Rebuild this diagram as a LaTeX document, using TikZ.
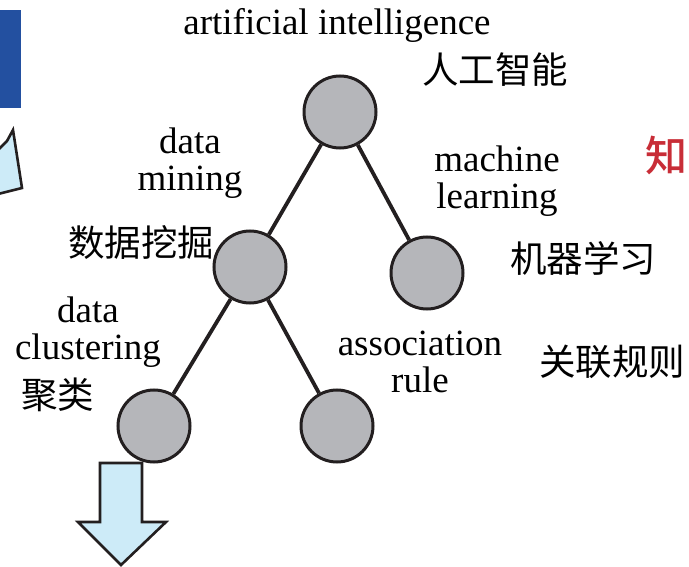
\documentclass[tikz,border=0pt]{standalone}
\usepackage{fontspec}
\setmainfont{Liberation Serif}
\newfontfamily\cjk{Noto Sans CJK SC}
\newfontfamily\cjkmed{Noto Sans CJK SC Medium}
\usetikzlibrary{positioning}
\definecolor{node-gray}{RGB}{181,182,186}
\definecolor{edge-black}{RGB}{35,31,32}
\definecolor{arrow-blue}{RGB}{205,235,248}
\definecolor{bar-blue}{RGB}{35,80,160}
\definecolor{zhi-red}{RGB}{200,45,55}

\begin{document}
\begin{tikzpicture}[x=1pt, y=-1pt]
				\tikzset{tree/.style={circle, draw=edge-black, fill=node-gray, line width=3pt, minimum size=72pt, inner sep=0pt}}
				\tikzset{edge/.style={draw=edge-black, line width=3.8pt}}
				\tikzset{en/.style={font=\fontsize{37}{37}\selectfont, align=center, inner sep=0pt}}
				\tikzset{zh/.style={font=\cjk\fontsize{36.5}{37}\selectfont, inner sep=0pt}}
				\tikzset{bigarrow/.style={draw=edge-black, fill=arrow-blue, line width=2.6pt, line join=miter}}
				\useasboundingbox (0,0) rectangle (689,567);
				
				% tree
				\node[tree] (ai) at (340,112) {};
				\node[tree] (dm) at (250,267) {};
				\node[tree] (ml) at (427,273) {};
				\node[tree] (dc) at (154,426) {};
				\node[tree] (ar) at (337,426) {};
				\draw[edge] (ai) -- (dm);
				\draw[edge] (ai) -- (ml);
				\draw[edge] (dm) -- (dc);
				\draw[edge] (dm) -- (ar);
				
				% labels
				\node[en] (ai text) at (337,25) {artificial intelligence};
				\node[zh] (ai zh) at (495,70) {人工智能};
				\node[en] (dm text) at (190,163) {data\\mining};
				\node[zh] (dm zh) at (141,243) {数据挖掘};
				\node[en] (ml text) at (497,181) {machine\\learning};
				\node[zh] (ml zh) at (583,258) {机器学习};
				\node[en] (dc text) at (88,332) {data\\clustering};
				\node[zh] (dc zh) at (58,395) {聚类};
				\node[en] (ar text) at (420,362) {association\\rule};
				\node[zh] (ar zh) at (612,362) {关联规则};
				\node[zh, font=\cjkmed\fontsize{42}{42}\selectfont, text=zhi-red, anchor=west] (zhi) at (645,155) {知};
				
				% left margin pieces
				\fill[bar-blue] (0,10) rectangle (21,108);
				\draw[bigarrow] (-2,150) -- (7,141) -- (13,130) -- (22,188) -- (-2,194);
				
				% arrow below
				\draw[bigarrow] 
				(100,463) 
				-- (100,522) 
				-- (78,522) 
				-- (121,565) 
				-- (166,522) 
				-- (142,522) 
				-- (142,463) 
				-- cycle;
\end{tikzpicture}
\end{document}
